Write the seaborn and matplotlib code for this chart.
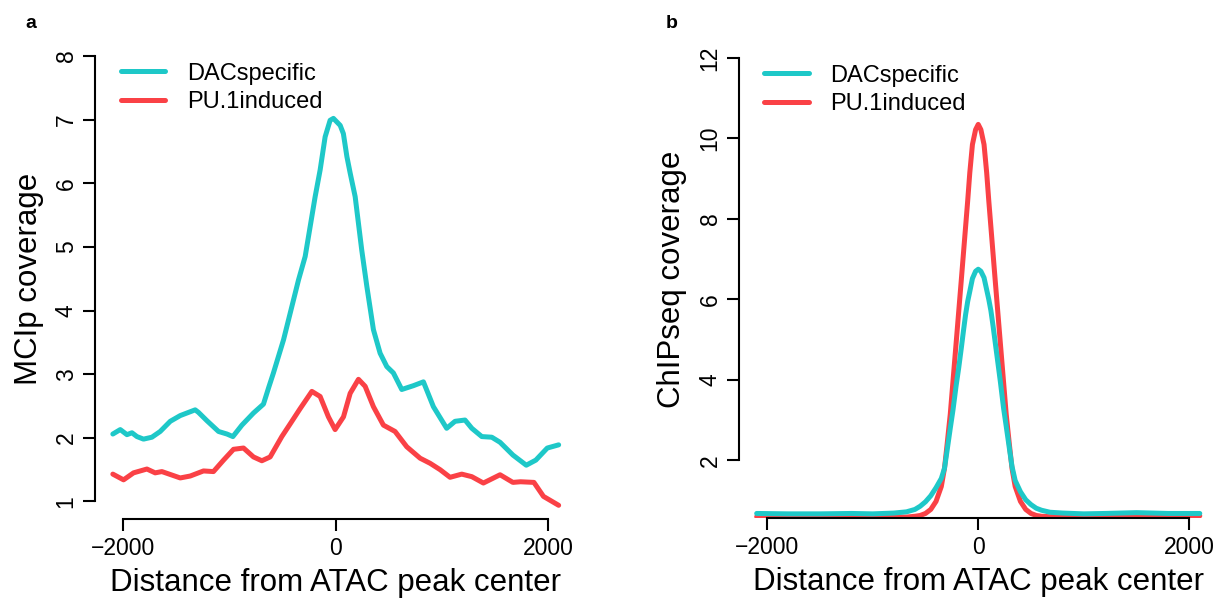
import numpy as np
import pandas as pd
import seaborn as sns
import matplotlib.pyplot as plt

# ---- painel a : MCIp coverage ----
a_dac_x = [-2100, -2030, -1967, -1920, -1873, -1811, -1732, -1654, -1559, -1465, -1387, -1324, -1293,
           -1214, -1104, -1025, -969, -884, -775, -681, -630, -587, -492, -429, -351, -288, -241, -194,
           -147, -100, -53, -22, 42, 72, 105, 136, 183, 214, 245, 293, 355, 418, 481, 543, 622, 732, 826,
           920, 1045, 1124, 1218, 1282, 1376, 1470, 1548, 1669, 1795, 1885, 1993, 2100]
a_dac_y = [2.06, 2.13, 2.05, 2.08, 2.02, 1.98, 2.01, 2.10, 2.26, 2.35, 2.40, 2.44, 2.40,
           2.27, 2.10, 2.06, 2.02, 2.20, 2.39, 2.53, 2.80, 3.02, 3.54, 3.96, 4.48, 4.85, 5.32, 5.79,
           6.21, 6.73, 6.99, 7.02, 6.91, 6.78, 6.42, 6.16, 5.79, 5.37, 4.95, 4.38, 3.70, 3.33, 3.12, 3.02, 2.76, 2.82, 2.88,
           2.49, 2.15, 2.26, 2.28, 2.15, 2.02, 2.01, 1.93, 1.73, 1.57, 1.65, 1.84, 1.89]

a_pu1_x = [-2100, -1999, -1905, -1779, -1701, -1638, -1465, -1371, -1246, -1152, -1057, -963, -869,
           -775, -696, -618, -508, -429, -335, -225, -147, -69, -6, 73, 136, 214, 277, 355, 449, 559,
           669, 795, 889, 983, 1077, 1187, 1282, 1391, 1548, 1669, 1741, 1867, 1957, 2100]
a_pu1_y = [1.43, 1.34, 1.45, 1.51, 1.45, 1.47, 1.37, 1.40, 1.48, 1.47, 1.65, 1.82, 1.84,
           1.70, 1.64, 1.70, 2.02, 2.22, 2.46, 2.73, 2.65, 2.33, 2.13, 2.33, 2.70, 2.92, 2.81, 2.49, 2.20, 2.10,
           1.86, 1.68, 1.60, 1.50, 1.38, 1.43, 1.39, 1.29, 1.42, 1.30, 1.31, 1.30, 1.08, 0.94]

# ---- painel b : ChIPseq coverage ----
b_x = [-2100, -1800, -1500, -1200, -1000, -800, -680, -600, -550, -500, -450, -400, -350, -320, -295,
       -265, -240, -210, -185, -160, -140, -120, -100, -80, -55, -25, 0, 25, 55, 80, 100, 120, 140, 160,
       185, 210, 240, 265, 295, 320, 350, 400, 450, 500, 550, 600, 680, 800, 1000, 1200, 1500, 1800, 2100]
b_dac_y = [0.68, 0.67, 0.67, 0.68, 0.67, 0.69, 0.72, 0.78, 0.86, 0.97, 1.12, 1.32, 1.55, 1.80, 2.25,
           2.80, 3.24, 3.85, 4.30, 4.80, 5.22, 5.62, 5.95, 6.20, 6.52, 6.70, 6.75, 6.70, 6.54, 6.24, 6.00,
           5.72, 5.35, 4.95, 4.45, 3.95, 3.30, 2.85, 2.30, 1.85, 1.50, 1.22, 1.02, 0.90, 0.81, 0.76, 0.71,
           0.69, 0.67, 0.68, 0.70, 0.68, 0.68]
b_pu1_y = [0.60, 0.61, 0.60, 0.60, 0.60, 0.59, 0.59, 0.61, 0.63, 0.68, 0.78, 0.98, 1.35, 1.80, 2.40,
           3.15, 3.95, 4.90, 5.70, 6.50, 7.15, 7.80, 8.45, 9.15, 9.85, 10.22, 10.35, 10.22, 9.85, 9.15, 8.45,
           7.80, 7.15, 6.50, 5.70, 4.90, 3.95, 3.15, 2.40, 1.80, 1.35, 0.98, 0.78, 0.68, 0.63, 0.61, 0.60,
           0.60, 0.61, 0.62, 0.63, 0.62, 0.62]

groups = ["DACspecific", "PU.1induced"]
colors = {"DACspecific": "#1EC8C8", "PU.1induced": "#FA4146"}

df_a = pd.concat([
    pd.DataFrame({"x": a_dac_x, "y": a_dac_y, "grupo": "DACspecific"}),
    pd.DataFrame({"x": a_pu1_x, "y": a_pu1_y, "grupo": "PU.1induced"}),
])
df_b = pd.concat([
    pd.DataFrame({"x": b_x, "y": b_dac_y, "grupo": "DACspecific"}),
    pd.DataFrame({"x": b_x, "y": b_pu1_y, "grupo": "PU.1induced"}),
])

sns.set_theme(style="white")
plt.rcParams['font.family'] = ['Liberation Sans', 'DejaVu Sans']
plt.rcParams['text.color'] = 'black'
plt.rcParams['axes.labelcolor'] = 'black'
plt.rcParams['xtick.color'] = 'black'
plt.rcParams['ytick.color'] = 'black'

fig = plt.figure(figsize=(12.18, 5.98), dpi=100)
ax_a = fig.add_axes([0.0780, 0.1316, 0.3953, 0.8045])
ax_b = fig.add_axes([0.6067, 0.1333, 0.3929, 0.7993])

paineis = [
    (ax_a, df_a, (0.72, 8.28), [1, 2, 3, 4, 5, 6, 7, 8], "MCIp coverage"),
    (ax_b, df_b, (0.56, 12.44), [2, 4, 6, 8, 10, 12], "ChIPseq coverage"),
]

for ax, df, ylim, yticks, ylabel in paineis:
    sns.lineplot(data=df, x="x", y="y", hue="grupo", hue_order=groups, palette=colors,
                 estimator=None, sort=False, linewidth=3.6, ax=ax)
    # vermelho por baixo, ciano por cima
    ax.lines[0].set_zorder(3)
    ax.lines[1].set_zorder(2)

    ax.set_xlim(-2268, 2268)
    ax.set_ylim(*ylim)
    ax.set_xticks([-2000, 0, 2000])
    ax.set_yticks(yticks)
    ax.spines['top'].set_visible(False)
    ax.spines['right'].set_visible(False)
    ax.spines['left'].set_bounds(yticks[0], yticks[-1])
    ax.spines['bottom'].set_bounds(-2000, 2000)
    for s in ['left', 'bottom']:
        ax.spines[s].set_linewidth(1.5)
        ax.spines[s].set_color('black')
    ax.tick_params(axis='both', direction='out', length=8.5, width=1.5, color='black',
                   labelsize=16.5, pad=4, left=True, bottom=True, labelcolor='black')
    plt.setp(ax.get_yticklabels(), rotation=90, va='center')

    ax.set_xlabel("Distance from ATAC peak center", fontsize=22.5, labelpad=6)
    ax.set_ylabel(ylabel, fontsize=22.5, labelpad=8)

    ax.legend(loc='upper left', bbox_to_anchor=(0.053, 0.949), frameon=False, fontsize=17,
              handlelength=1.9, handletextpad=0.9, labelspacing=0.28, borderpad=0, borderaxespad=0)
    leg = ax.get_legend()
    for h in leg.legend_handles:
        h.set_linewidth(3.6)
    for t in leg.get_texts():
        t.set_color('black')

fig.text(25 / 1218, 1 - 28 / 598, "a", fontsize=14, fontweight='bold', va='baseline')
fig.text(666 / 1218, 1 - 28 / 598, "b", fontsize=14, fontweight='bold', va='baseline')

fig.savefig("out.png", dpi=100)
